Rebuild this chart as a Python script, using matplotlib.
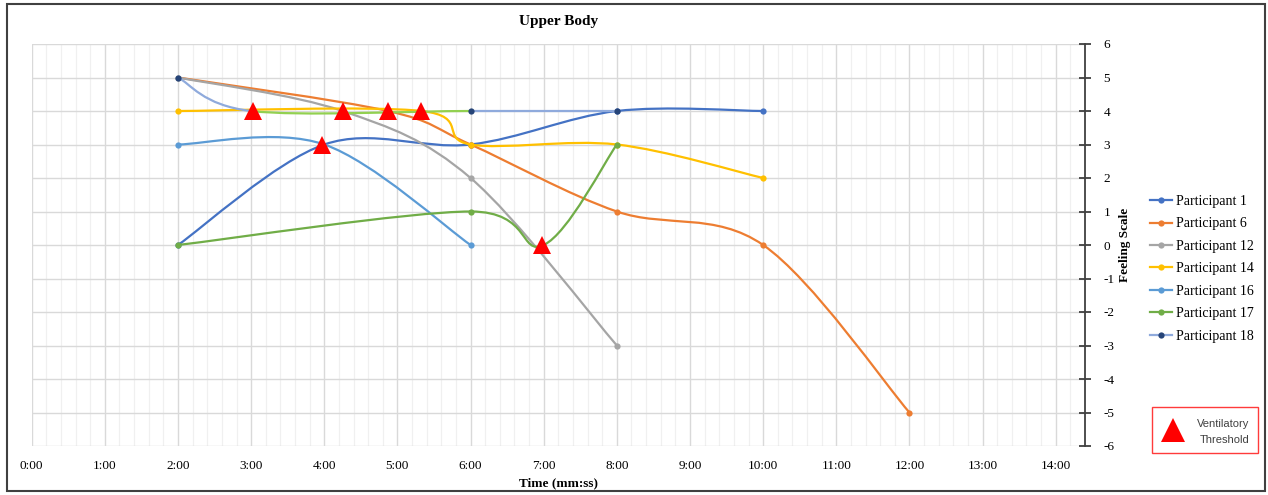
import matplotlib
matplotlib.use("Agg")
import matplotlib.pyplot as plt
from matplotlib.path import Path
from matplotlib.patches import PathPatch, Rectangle
from matplotlib.lines import Line2D
import numpy as np

# ---------------- data (time in minutes) ----------------
p1_t = [2, 4, 6, 8, 10]
p1_v = [0, 3, 3, 4, 4]
p6_t = [2, 4.87, 6, 8, 10, 12]
p6_v = [5, 4, 3, 1, 0, -5]
p12_t = [2, 4.25, 6, 8]
p12_v = [5, 4, 2, -3]
p14_t = [2, 5.33, 6, 8, 10]
p14_v = [4, 4, 3, 3, 2]
p16_t = [2, 4, 6]
p16_v = [3, 3, 0]
p17_t = [2, 6, 7, 8]
p17_v = [0, 1, 0, 3]
p18_t = [2, 3, 6, 8]
p18_v = [5, 4, 4, 4]
# points that carry a visible marker
p6_marked = [False, False, True, True, True, True]
p12_marked = [True, False, True, True]
p14_marked = [True, False, True, True, True]
p16_marked = [True, False, True]
p17_marked = [True, True, False, True]
p1_marked = [True, False, True, True, True]
p18_marked = [True, False, True, True]

vt_t = [3.02, 4.25, 4.87, 5.32, 3.97, 6.97]
vt_v = [4, 4, 4, 4, 3, 0]

labels = ["Participant 1", "Participant 6", "Participant 12", "Participant 14",
          "Participant 16", "Participant 17", "Participant 18"]
xtick_labels = [f"{m}:00" for m in range(15)]

# ---------------- styling ----------------
C1 = "#4472C4"; C6 = "#ED7D31"; C12 = "#A5A5A5"; C14 = "#FFC000"
C16 = "#5B9BD5"; C17 = "#70AD47"; C18L = "#8FAADC"; C18M = "#264478"; C18G = "#92D050"

plt.rcParams['font.family'] = ['Liberation Serif', 'DejaVu Serif']
plt.rcParams['axes.unicode_minus'] = False

W, H = 1268, 495
fig = plt.figure(figsize=(W / 100, H / 100), dpi=100)
x0, x1, y0, y1 = 31.7, 1085, 44, 446
ax = fig.add_axes([x0 / W, 1 - y1 / H, (x1 - x0) / W, (y1 - y0) / H])
ax.set_xlim(0, 14.4)
ax.set_ylim(-6, 6)


def bezier_segments(t, v):
    P = np.column_stack([t, v]).astype(float)
    n = len(P)
    segs = []
    for i in range(n - 1):
        pm = P[i - 1] if i > 0 else P[i]
        pp = P[i + 2] if i + 2 < n else P[i + 1]
        c1 = P[i] + (P[i + 1] - pm) / 6.0
        c2 = P[i + 1] - (pp - P[i]) / 6.0
        segs.append([P[i], c1, c2, P[i + 1]])
    return segs


def draw_smooth(t, v, colors, z, lw=1.6):
    segs = bezier_segments(t, v)
    if isinstance(colors, str):
        colors = [colors] * len(segs)
    for seg, col in zip(segs, colors):
        path = Path(seg, [Path.MOVETO, Path.CURVE4, Path.CURVE4, Path.CURVE4])
        ax.add_patch(PathPatch(path, facecolor="none", edgecolor=col, lw=lw,
                               zorder=z, capstyle="round", joinstyle="round"))


def draw_markers(t, v, marked, color, z):
    tt = [a for a, m in zip(t, marked) if m]
    vv = [b for b, m in zip(v, marked) if m]
    ax.plot(tt, vv, linestyle="none", marker="o", markersize=4.5, color=color,
            markeredgewidth=0, zorder=z + 0.5)


series = [
    (p1_t, p1_v, p1_marked, C1, C1),
    (p6_t, p6_v, p6_marked, C6, C6),
    (p12_t, p12_v, p12_marked, C12, C12),
    (p14_t, p14_v, p14_marked, C14, C14),
    (p16_t, p16_v, p16_marked, C16, C16),
    (p17_t, p17_v, p17_marked, C17, C17),
    (p18_t, p18_v, p18_marked, [C18L, C18G, C18L], C18M),
]
handles = []
for k, (t, v, mk, lc, mc) in enumerate(series):
    z = 3 + k
    draw_smooth(t, v, lc, z)
    draw_markers(t, v, mk, mc, z)
    hc = lc if isinstance(lc, str) else lc[0]
    handles.append(Line2D([], [], color=hc, lw=1.6, marker="o", markersize=4.5,
                          markerfacecolor=mc, markeredgewidth=0))

ax.plot(vt_t, vt_v, linestyle="none", marker="^", markersize=13, color="#FF0000",
        markeredgewidth=0, zorder=20)

# ---------------- axes ----------------
ax.set_xticks(np.arange(0, 15))
ax.set_xticklabels(xtick_labels)
ax.set_xticks(np.arange(0, 14.41, 0.2), minor=True)
ax.set_yticks(np.arange(-6, 7))
ax.grid(which="major", axis="x", color="#D9D9D9", lw=1.0, zorder=0)
ax.grid(which="minor", axis="x", color="#F0F0F0", lw=0.9, zorder=0)
ax.grid(which="major", axis="y", color="#D9D9D9", lw=1.0, zorder=0)
ax.set_axisbelow(True)

for s in ["top", "left", "bottom"]:
    ax.spines[s].set_visible(False)
ax.spines["right"].set_color("#404040")
ax.spines["right"].set_linewidth(1.3)
ax.yaxis.tick_right()
ax.tick_params(axis="y", which="major", direction="inout", length=9, width=1.3,
               color="#404040", pad=9, labelsize=9.5, labelcolor="#000000")
ax.tick_params(axis="x", which="both", length=0, pad=10, labelsize=9.5)
ax.yaxis.set_label_position("right")
ax.set_ylabel("Feeling Scale", fontsize=9.5, fontweight="bold", labelpad=3)
ax.set_xlabel("Time (mm:ss)", fontsize=9.5, fontweight="bold", labelpad=4)
ax.set_title("Upper Body", fontsize=11, fontweight="bold", pad=14)

# ---------------- legend ----------------
leg = fig.legend(handles, labels, loc="upper left",
                 bbox_to_anchor=(1150 / W, 1 - 195 / H), frameon=False,
                 fontsize=10, handlelength=1.6, handletextpad=0.3,
                 labelspacing=0.68, borderaxespad=0, borderpad=0)

# Ventilatory threshold box
fig.add_artist(Rectangle((1152 / W, 1 - 453 / H), 106 / W, 46 / H,
                         transform=fig.transFigure, fill=False,
                         edgecolor="#FF3B3B", lw=1.0))
fig.add_artist(Line2D([1173 / W], [1 - 430 / H], transform=fig.transFigure,
                      marker="^", markersize=17, color="#FF0000",
                      markeredgewidth=0, linestyle="none"))
fig.text(1249 / W, 1 - 424 / H, "Ventilatory", ha="right", va="center",
         fontsize=8, color="#404040", family=["Liberation Sans", "DejaVu Sans"])
fig.text(1249 / W, 1 - 440 / H, "Threshold", ha="right", va="center",
         fontsize=8, color="#404040", family=["Liberation Sans", "DejaVu Sans"])

# outer border
fig.add_artist(Rectangle((7 / W, 1 - 491 / H), 1258 / W, 487 / H,
                         transform=fig.transFigure, fill=False,
                         edgecolor="#404040", lw=1.5))

fig.savefig("out.png", dpi=100)
